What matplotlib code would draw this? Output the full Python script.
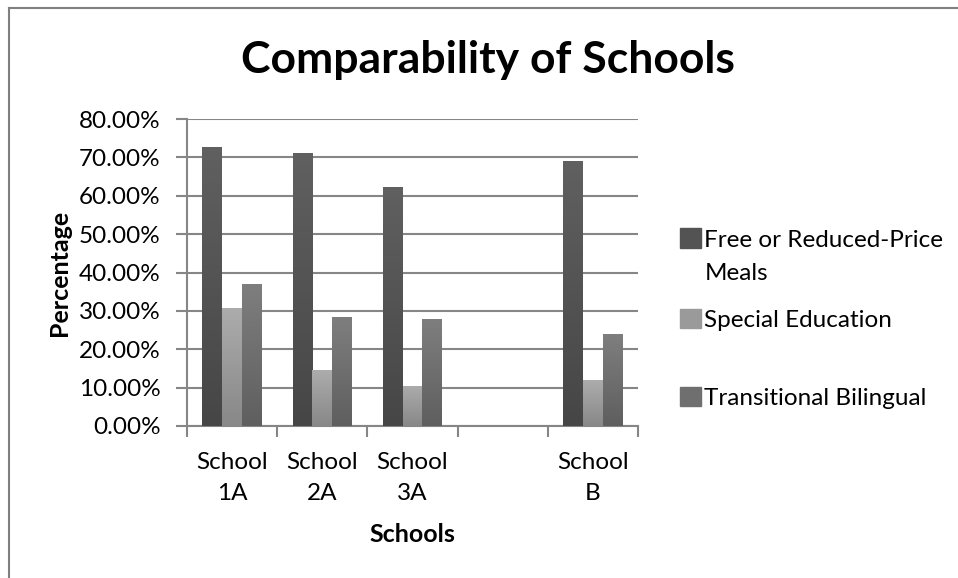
import numpy as np
import matplotlib
matplotlib.use("Agg")
import matplotlib.pyplot as plt
from matplotlib.colors import LinearSegmentedColormap
from matplotlib.lines import Line2D
from matplotlib.ticker import FuncFormatter, FixedLocator

plt.rcParams['font.family'] = ['Lato', 'DejaVu Sans']

# data (percent)
schools = ['School\n1A', 'School\n2A', 'School\n3A', '', 'School\nB']
free_meals = [72.7, 71.1, 62.2, np.nan, 69.0]
special_ed = [30.7, 14.5, 10.5, np.nan, 11.9]
bilingual = [36.9, 28.3, 27.8, np.nan, 23.9]
series_names = ['Free or Reduced-Price\nMeals', 'Special Education', 'Transitional Bilingual']

# top color, bottom color for each series
grads = [('#606060', '#464646'), ('#acacac', '#888888'), ('#7e7e7e', '#5f5f5f')]
grid_c = '#868686'
fs = 17.5

fig = plt.figure(figsize=(9.58, 5.78), dpi=100)
ax = fig.add_axes([187/958, 1-426/578, 451/958, 307/578])

x = np.arange(len(schools))
w = 0.22
handles = []
for k, (vals, (ctop, cbot)) in enumerate(zip([free_meals, special_ed, bilingual], grads)):
    bars = ax.bar(x + (k-1)*w, vals, w, color=ctop, zorder=3, linewidth=0)
    cmap = LinearSegmentedColormap.from_list('g%d' % k, [cbot, ctop])
    for b in bars:
        h = b.get_height()
        if not np.isfinite(h):
            continue
        b.set_facecolor('none')
        xl = b.get_x()
        im = ax.imshow(np.linspace(0, 1, 64).reshape(-1, 1), cmap=cmap, origin='lower',
                       extent=[xl, xl + b.get_width(), 0, h], aspect='auto', zorder=3)
        im.set_clip_path(b)
    handles.append(plt.Rectangle((0, 0), 1, 1, color=cmap(0.5)))

ax.set_xlim(-0.5, len(schools) - 0.5)
ax.set_ylim(0, 80)
ax.set_yticks(np.arange(0, 81, 10))
ax.yaxis.set_major_formatter(FuncFormatter(lambda v, p: '%.2f%%' % v))
ax.yaxis.grid(True, color=grid_c, linewidth=1.5, zorder=0)
ax.set_axisbelow(True)

ax.set_xticks(x)
ax.set_xticklabels(schools, fontsize=fs, linespacing=1.56)
ax.xaxis.set_minor_locator(FixedLocator(np.arange(-0.5, len(schools), 1)))
ax.tick_params(axis='x', which='major', length=0, pad=19)
ax.tick_params(axis='x', which='minor', length=8, width=1.5, color=grid_c, direction='out')
ax.tick_params(axis='y', length=8, width=1.5, color=grid_c, labelsize=fs, pad=11)

for s in ['top', 'right']:
    ax.spines[s].set_visible(False)
for s in ['left', 'bottom']:
    ax.spines[s].set_color(grid_c)
    ax.spines[s].set_linewidth(1.5)

ax.set_xlabel('Schools', fontsize=18, fontweight='bold', labelpad=14)
ax.set_ylabel('Percentage', fontsize=18, fontweight='bold', labelpad=6)

fig.text(488/958, 1-60/578, 'Comparability of Schools', fontsize=32, fontweight='bold',
         ha='center', va='center')

# legend, one block per entry (Excel spacing is uneven)
blank = plt.Rectangle((0, 0), 1, 1, color='none')
leg_specs = [([handles[0], blank], ['Free or Reduced-Price', 'Meals'], 256),
             ([handles[1]], ['Special Education'], 320),
             ([handles[2]], ['Transitional Bilingual'], 398)]
for hs, labs, yc in leg_specs:
    lg = fig.legend(hs, labs, loc='center left', bbox_to_anchor=(680/958, 1-yc/578),
                    frameon=False, fontsize=fs, handlelength=0.85, handleheight=0.85,
                    handletextpad=0.15, labelspacing=0.45, borderpad=0, borderaxespad=0)

# chart area border (left and top edges visible)
fig.add_artist(Line2D([8.5/958, 8.5/958], [0, 1-7.5/578], color='#808080', linewidth=1.5))
fig.add_artist(Line2D([8.5/958, 1], [1-7.5/578, 1-7.5/578], color='#808080', linewidth=1.5))

fig.savefig('out.png', dpi=100)
